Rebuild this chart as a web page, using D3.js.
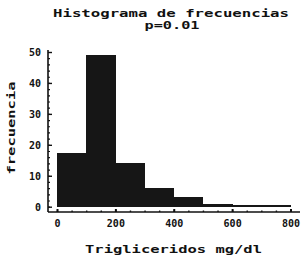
<!DOCTYPE html>
<html>
<head>
<meta charset="utf-8">
<script src="https://cdn.jsdelivr.net/npm/d3@7"></script>
<style>
  body { margin: 0; background: #fff; }
  text { font-family: "DejaVu Sans Mono", monospace; font-weight: bold; fill: #111; }
</style>
</head>
<body>
<div id="chart"></div>
<script>
// bin edges (mg/dl) and frequency per bin
let binEdges = [0, 100, 200, 300, 400, 500, 600, 800];
let counts = [17.5, 49, 14, 6, 3, 1, 0.5];
let xTicks = [0, 200, 400, 600, 800];
let yTicks = [0, 10, 20, 30, 40, 50];

function histogram() {
    let width = 305, height = 259;

    let svg = d3.select("#chart")
        .append("svg")
        .attr("width", width)
        .attr("height", height);

    let x = d3.scaleLinear().domain([0, 800]).range([57, 290.5]);
    let y = d3.scaleLinear().domain([0, 50]).range([206.7, 52]);

    // bars
    let bins = counts.map(function (c, i) {
        return {x0: binEdges[i], x1: binEdges[i + 1], v: c};
    });
    svg.append("g")
        .attr("shape-rendering", "crispEdges")
        .selectAll("rect")
        .data(bins)
        .enter()
        .append("rect")
        .attr("x", function (d) { return x(d.x0); })
        .attr("width", function (d) { return x(d.x1) - x(d.x0) + 0.5; })
        .attr("y", function (d) { return y(d.v); })
        .attr("height", function (d) { return y(0) - y(d.v); })
        .attr("fill", "#161616");

    // axis lines
    let xAxisY = 212;
    let yAxisX = 48;
    svg.append("line")
        .attr("x1", yAxisX).attr("x2", 300)
        .attr("y1", xAxisY).attr("y2", xAxisY)
        .attr("stroke", "#111").attr("stroke-width", 1.6);
    svg.append("line")
        .attr("x1", yAxisX).attr("x2", yAxisX)
        .attr("y1", 50).attr("y2", xAxisY)
        .attr("stroke", "#111").attr("stroke-width", 1.6);

    // y ticks (inward)
    let yAxis = svg.append("g")
        .attr("transform", "translate(" + yAxisX + ",0)")
        .call(d3.axisLeft(y).tickValues(yTicks).tickSizeInner(-4).tickSizeOuter(0).tickPadding(7));
    yAxis.select(".domain").remove();
    yAxis.selectAll("line").attr("stroke", "#111").attr("stroke-width", 1.4);
    yAxis.selectAll("text").style("font-size", "10px").attr("dy", "0.35em");

    svg.append("g")
        .attr("transform", "translate(" + yAxisX + ",0)")
        .call(d3.axisLeft(y).ticks(25).tickSizeInner(-2).tickSizeOuter(0).tickFormat(""))
        .call(function (g) { g.select(".domain").remove(); })
        .selectAll("line").attr("stroke", "#111").attr("stroke-width", 1.2);

    // x ticks (upward)
    let xAxis = svg.append("g")
        .attr("transform", "translate(0," + xAxisY + ")")
        .call(d3.axisBottom(x).tickValues(xTicks).tickSizeInner(-3).tickSizeOuter(0).tickPadding(8));
    xAxis.select(".domain").remove();
    xAxis.selectAll("line").attr("stroke", "#111").attr("stroke-width", 2);
    xAxis.selectAll("text").style("font-size", "10px").attr("dy", "0.71em");

    svg.append("g")
        .attr("transform", "translate(0," + xAxisY + ")")
        .call(d3.axisBottom(x).ticks(16).tickSizeInner(-1.5).tickSizeOuter(0).tickFormat(""))
        .call(function (g) { g.select(".domain").remove(); })
        .selectAll("line").attr("stroke", "#111").attr("stroke-width", 1.4);

    // titles
    svg.append("text")
        .attr("x", 171).attr("y", 17)
        .attr("text-anchor", "middle")
        .attr("textLength", 236).attr("lengthAdjust", "spacingAndGlyphs")
        .style("font-size", "10px")
        .text("Histograma de frecuencias");
    svg.append("text")
        .attr("x", 172).attr("y", 29)
        .attr("text-anchor", "middle")
        .attr("textLength", 55).attr("lengthAdjust", "spacingAndGlyphs")
        .style("font-size", "10px")
        .text("p=0.01");

    svg.append("text")
        .attr("x", 173.5).attr("y", 253)
        .attr("text-anchor", "middle")
        .attr("textLength", 177).attr("lengthAdjust", "spacingAndGlyphs")
        .style("font-size", "10px")
        .text("Trigliceridos mg/dl");

    svg.append("text")
        .attr("transform", "translate(15,128) rotate(-90)")
        .attr("text-anchor", "middle")
        .attr("textLength", 93).attr("lengthAdjust", "spacingAndGlyphs")
        .style("font-size", "10px")
        .text("frecuencia");
}

histogram();
</script>
</body>
</html>
